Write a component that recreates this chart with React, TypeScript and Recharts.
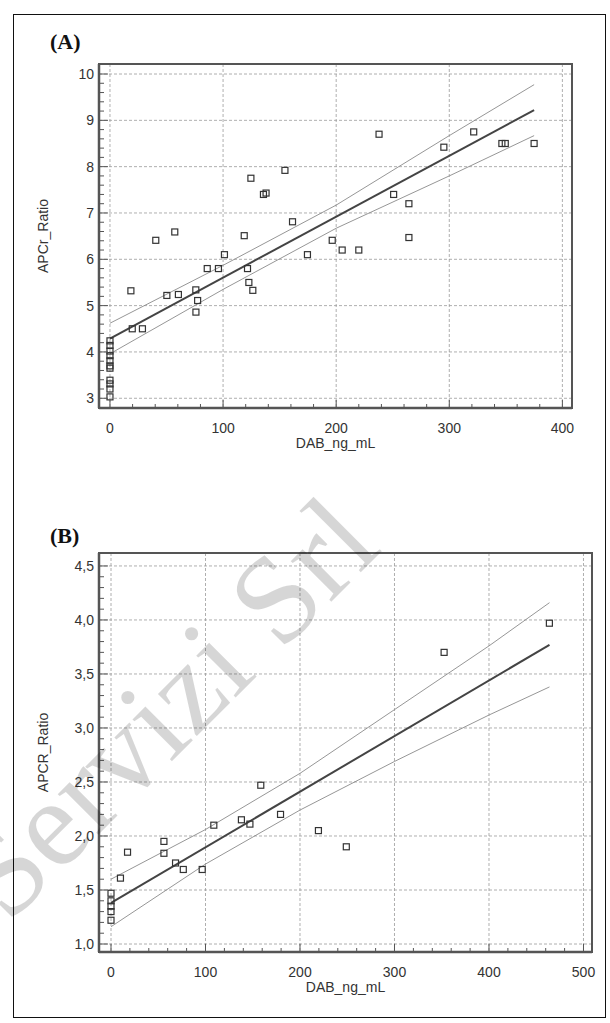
import React from "react";
import { ScatterChart, Scatter, XAxis, YAxis, CartesianGrid, ReferenceArea } from "recharts";

// ---- Panel A: APCr_Ratio vs DAB_ng_mL ----
const dabA = [
  0, 0, 0, 0, 0, 0, 0, 0, 0, 0, 0,
  18.5, 19.7, 28.7, 40.5, 50.3, 57.3, 60.5, 75.9, 76, 77.5, 86, 95.9, 101.2,
  118.7, 121.6, 122.8, 124.6, 126.3, 135.7, 138, 154.7, 161.4, 174.6, 196.5,
  205.3, 220, 237.9, 250.8, 264.3, 264.3, 295.2, 321.6, 346.5, 349.5, 375,
];
const apcrA = [
  4.24, 4.14, 4.02, 3.92, 3.81, 3.7, 3.65, 3.39, 3.31, 3.2, 3.03,
  5.32, 4.5, 4.5, 6.41, 5.22, 6.59, 5.24, 5.34, 4.86, 5.11, 5.8, 5.8, 6.1,
  6.51, 5.8, 5.5, 7.75, 5.33, 7.4, 7.43, 7.92, 6.81, 6.1, 6.41,
  6.2, 6.2, 8.7, 7.4, 7.2, 6.47, 8.42, 8.75, 8.5, 8.5, 8.5,
];
const fitXA = [0, 375];
const fitYA = [4.29, 9.22];
const bandXA = [0, 100, 200, 300, 375];
const upperA = [4.62, 5.87, 7.17, 8.67, 9.77];
const lowerA = [3.96, 5.35, 6.67, 7.8, 8.67];
const xTicksA = [0, 100, 200, 300, 400];
const yTicksA = [3, 4, 5, 6, 7, 8, 9, 10];
const yLabelsA = ["3", "4", "5", "6", "7", "8", "9", "10"];

// ---- Panel B: APCR_Ratio vs DAB_ng_mL ----
const dabB = [0, 0, 0, 0, 0, 10, 17.5, 56, 56, 68.3, 76.5, 96.5, 108.8, 138, 147, 158.5, 179.4, 219.5, 249, 352.5, 463.9];
const apcrB = [1.47, 1.4, 1.35, 1.3, 1.22, 1.61, 1.85, 1.95, 1.84, 1.75, 1.69, 1.69, 2.1, 2.15, 2.11, 2.47, 2.2, 2.05, 1.9, 3.7, 3.97];
const fitXB = [0, 464];
const fitYB = [1.38, 3.77];
const bandXB = [0, 100, 200, 300, 400, 464];
const upperB = [1.6, 2.06, 2.58, 3.17, 3.76, 4.16];
const lowerB = [1.16, 1.74, 2.24, 2.69, 3.12, 3.38];
const xTicksB = [0, 100, 200, 300, 400, 500];
const yTicksB = [1.0, 1.5, 2.0, 2.5, 3.0, 3.5, 4.0, 4.5];
const yLabelsB = ["1,0", "1,5", "2,0", "2,5", "3,0", "3,5", "4,0", "4,5"];

const zip = (xs: number[], ys: number[]) => xs.map((x, i) => ({ x, y: ys[i] }));

// minor ticks: 5 subdivisions between majors
const minors = (major: number[]) => {
  const out: number[] = [];
  for (let i = 0; i < major.length - 1; i++) {
    const step = (major[i + 1] - major[i]) / 5;
    for (let k = 0; k < 5; k++) out.push(+(major[i] + k * step).toFixed(4));
  }
  out.push(major[major.length - 1]);
  return out;
};

const FONT = "'Liberation Sans', Arial, sans-serif";
const INK = "#333";

function Square(props: any) {
  const { cx, cy } = props;
  if (cx == null || cy == null) return null;
  return <rect x={cx - 3} y={cy - 3} width={6} height={6} fill="none" stroke={INK} strokeWidth={1.2} />;
}

const NoDot = () => null;

const isIn = (arr: number[], v: number) => arr.findIndex((m) => Math.abs(m - v) < 1e-6);

function yTick(major: number[], labels: string[]) {
  return (props: any) => {
    const { x, y, payload } = props;
    const idx = isIn(major, payload.value);
    return (
      <g>
        <line x1={x} x2={x + (idx >= 0 ? 9 : 5)} y1={y} y2={y} stroke="#555" strokeWidth={1} />
        {idx >= 0 && (
          <text x={x - 5} y={y} dy="0.35em" textAnchor="end" fontSize={14} fontFamily={FONT} fill={INK}>
            {labels[idx]}
          </text>
        )}
      </g>
    );
  };
}

function xTick(major: number[]) {
  return (props: any) => {
    const { x, y, payload } = props;
    const idx = isIn(major, payload.value);
    return (
      <g>
        <line x1={x} x2={x} y1={y} y2={y - (idx >= 0 ? 8 : 4)} stroke="#555" strokeWidth={1} />
        {idx >= 0 && (
          <text x={x} y={y + 15} dy="0.71em" textAnchor="middle" fontSize={14} fontFamily={FONT} fill={INK}>
            {payload.value}
          </text>
        )}
      </g>
    );
  };
}

interface PanelProps {
  top: number;
  height: number;
  margin: { top: number; right: number; bottom: number; left: number };
  xDomain: [number, number];
  yDomain: [number, number];
  xTicks: number[];
  yTicks: number[];
  yLabels: string[];
  yTitle: string;
  points: { x: number; y: number }[];
  fit: { x: number; y: number }[];
  upper: { x: number; y: number }[];
  lower: { x: number; y: number }[];
}

function Panel(p: PanelProps) {
  return (
    <div style={{ position: "absolute", left: 0, top: p.top }}>
      <ScatterChart width={610} height={p.height} margin={p.margin}>
        <CartesianGrid
          horizontalValues={p.yTicks}
          verticalValues={p.xTicks}
          stroke="#9a9a9a"
          strokeDasharray="3 2"
          strokeWidth={0.8}
        />
        <XAxis
          type="number"
          dataKey="x"
          domain={p.xDomain}
          allowDataOverflow
          ticks={minors(p.xTicks)}
          interval={0}
          height={40}
          tickLine={false}
          tickSize={0}
          tickMargin={0}
          axisLine={{ stroke: "#555", strokeWidth: 2.5 }}
          tick={xTick(p.xTicks)}
          label={{ value: "DAB_ng_mL", position: "insideBottom", offset: 0, fontSize: 14, fontFamily: FONT, fill: INK }}
        />
        <YAxis
          type="number"
          dataKey="y"
          domain={p.yDomain}
          allowDataOverflow
          ticks={minors(p.yTicks)}
          interval={0}
          width={60}
          tickLine={false}
          tickSize={0}
          tickMargin={0}
          axisLine={{ stroke: "#555", strokeWidth: 2.5 }}
          tick={yTick(p.yTicks, p.yLabels)}
          label={{
            value: p.yTitle,
            angle: -90,
            position: "insideLeft",
            offset: 4,
            fontSize: 14,
            fontFamily: FONT,
            fill: INK,
            style: { textAnchor: "middle" },
          }}
        />
        <ReferenceArea
          x1={p.xDomain[0]}
          x2={p.xDomain[1]}
          y1={p.yDomain[0]}
          y2={p.yDomain[1]}
          fill="none"
          stroke="#555"
          strokeWidth={2}
          ifOverflow="visible"
        />
        <Scatter data={p.upper} line={{ stroke: "#8a8a8a", strokeWidth: 0.9 }} shape={NoDot} isAnimationActive={false} />
        <Scatter data={p.lower} line={{ stroke: "#8a8a8a", strokeWidth: 0.9 }} shape={NoDot} isAnimationActive={false} />
        <Scatter data={p.fit} line={{ stroke: "#444", strokeWidth: 2 }} shape={NoDot} isAnimationActive={false} />
        <Scatter data={p.points} shape={Square} isAnimationActive={false} />
      </ScatterChart>
    </div>
  );
}

const panelLabel: React.CSSProperties = {
  position: "absolute",
  left: 50,
  fontFamily: "'Liberation Serif', 'Times New Roman', serif",
  fontWeight: "bold",
  fontSize: 22,
  lineHeight: "24px",
  color: "#111",
};

export default function App() {
  return (
    <div style={{ position: "absolute", left: 0, top: 0, width: 610, height: 1023, background: "#fff" }}>
      <div
        style={{
          position: "absolute",
          left: 13,
          top: 14,
          width: 593,
          height: 1004,
          border: "1.5px solid #111",
          boxSizing: "border-box",
        }}
      />
      <div style={{ ...panelLabel, top: 30 }}>(A)</div>
      <Panel
        top={0}
        height={470}
        margin={{ top: 64, right: 38, bottom: 22, left: 39 }}
        xDomain={[-9.7, 408.5]}
        yDomain={[2.79, 10.216]}
        xTicks={xTicksA}
        yTicks={yTicksA}
        yLabels={yLabelsA}
        yTitle="APCr_Ratio"
        points={zip(dabA, apcrA)}
        fit={zip(fitXA, fitYA)}
        upper={zip(bandXA, upperA)}
        lower={zip(bandXA, lowerA)}
      />
      <div style={{ ...panelLabel, top: 524 }}>(B)</div>
      <Panel
        top={489}
        height={525}
        margin={{ top: 64, right: 18, bottom: 22, left: 39 }}
        xDomain={[-12.7, 509]}
        yDomain={[0.926, 4.62]}
        xTicks={xTicksB}
        yTicks={yTicksB}
        yLabels={yLabelsB}
        yTitle="APCR_Ratio"
        points={zip(dabB, apcrB)}
        fit={zip(fitXB, fitYB)}
        upper={zip(bandXB, upperB)}
        lower={zip(bandXB, lowerB)}
      />
      <svg
        width={610}
        height={1023}
        style={{ position: "absolute", left: 0, top: 0, pointerEvents: "none" }}
      >
        <text
          transform="translate(8,925) rotate(-45)"
          fontSize={125}
          fontFamily="'Liberation Serif', 'Times New Roman', serif"
          fill="#000"
          fillOpacity={0.16}
        >
          Servizi Srl
        </text>
      </svg>
    </div>
  );
}
